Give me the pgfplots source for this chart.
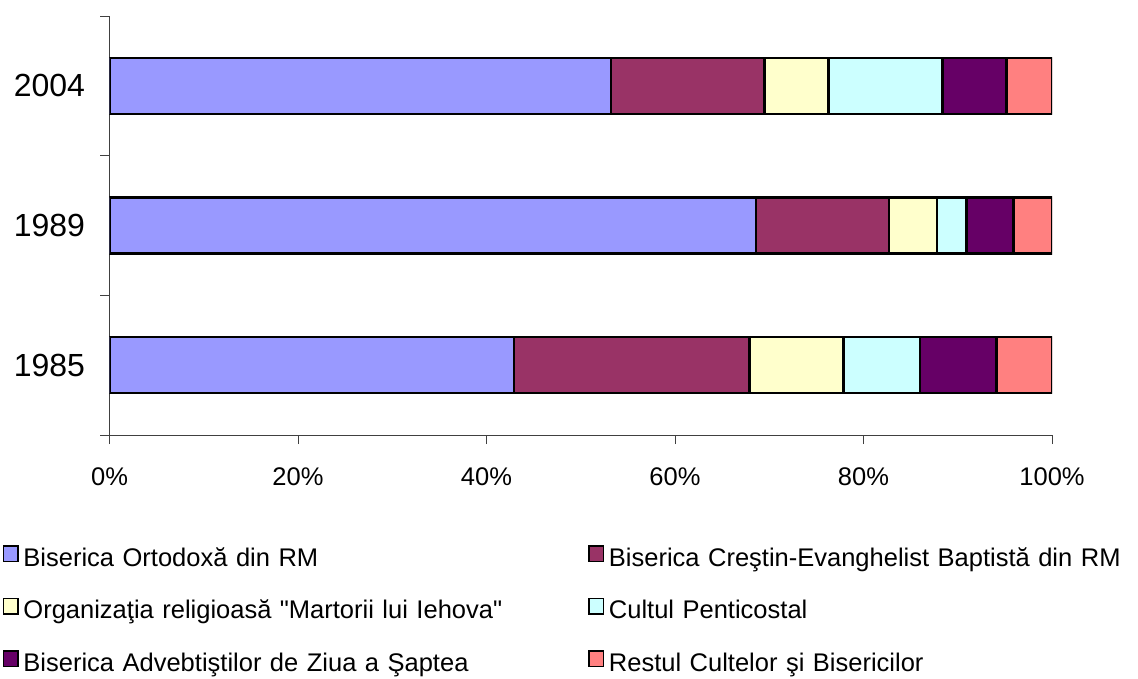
\documentclass[border=0pt]{standalone}
\usepackage{pgfplots}
\pgfplotsset{compat=1.18}
\usepackage{fontspec}
\setmainfont{Liberation Sans}[Ligatures=TeXOff]
\definecolor{cOrt}{HTML}{9999FF}
\definecolor{cBap}{HTML}{993366}
\definecolor{cMar}{HTML}{FFFFCC}
\definecolor{cPen}{HTML}{CCFFFF}
\definecolor{cAdv}{HTML}{660066}
\definecolor{cRes}{HTML}{FF8080}
\begin{document}
\begin{tikzpicture}
\path[use as bounding box] (0,0) rectangle (1138pt,678pt);
\begin{axis}[
  at={(109.5pt,243pt)}, anchor=south west,
  scale only axis, width=942.5pt, height=419pt,
  xbar stacked, bar width=56pt,
  xmin=0, xmax=100, ymin=-0.5, ymax=2.5,
  axis lines*=left,
  axis line style={line width=0.9pt, draw=black!75},
  tick align=outside, major tick length=9pt,
  tick style={line width=0.9pt, draw=black!75},
  xtick={0,20,40,60,80,100},
  xticklabels={0\%,20\%,40\%,60\%,80\%,100\%},
  xticklabel style={font=\fontsize{25.5}{30}\selectfont, yshift=-20pt},
  ytick={-0.5,0.5,1.5,2.5}, yticklabels={},
  extra y ticks={0,1,2},
  extra y tick labels={1985,1989,2004},
  extra y tick style={major tick length=0pt, yticklabel style={font=\fontsize{32}{38}\selectfont, xshift=-21pt}},
  legend columns=2,
  legend image code/.code={\draw[#1, line width=1.5pt] (0pt,-1.5pt) rectangle (14.5pt,14pt);},
  legend style={
    at={(-0.1133,-0.2632)}, anchor=north west, draw=none, fill=none,
    inner sep=0pt, outer sep=0pt,
    row sep=25.75pt,
    nodes={inner sep=0pt, text height=18pt, text depth=6pt, text width=550pt, align=left, font=\fontsize{25.5}{30}\selectfont},
    /tikz/column 1/.style={column sep=4.75pt},
    /tikz/column 2/.style={column sep=14.75pt},
    /tikz/column 3/.style={column sep=4.75pt},
  },
]
\addplot[fill=cOrt, draw=black, line width=2.6pt] coordinates {(42.9,0) (68.6,1) (53.2,2)};
\addplot[fill=cBap, draw=black, line width=2.6pt] coordinates {(25.0,0) (14.1,1) (16.3,2)};
\addplot[fill=cMar, draw=black, line width=2.6pt] coordinates {(10.0,0) (5.1,1) (6.8,2)};
\addplot[fill=cPen, draw=black, line width=2.6pt] coordinates {(8.1,0) (3.1,1) (12.1,2)};
\addplot[fill=cAdv, draw=black, line width=2.6pt] coordinates {(8.1,0) (5.0,1) (6.8,2)};
\addplot[fill=cRes, draw=black, line width=2.6pt] coordinates {(5.9,0) (4.1,1) (4.8,2)};
\legend{Biserica Ortodoxă din RM, Biserica Creştin-Evanghelist Baptistă din RM, Organizaţia religioasă "Martorii lui Iehova", Cultul Penticostal, Biserica Advebtiştilor de Ziua a Şaptea, Restul Cultelor şi Bisericilor}
\end{axis}
\end{tikzpicture}
\end{document}
